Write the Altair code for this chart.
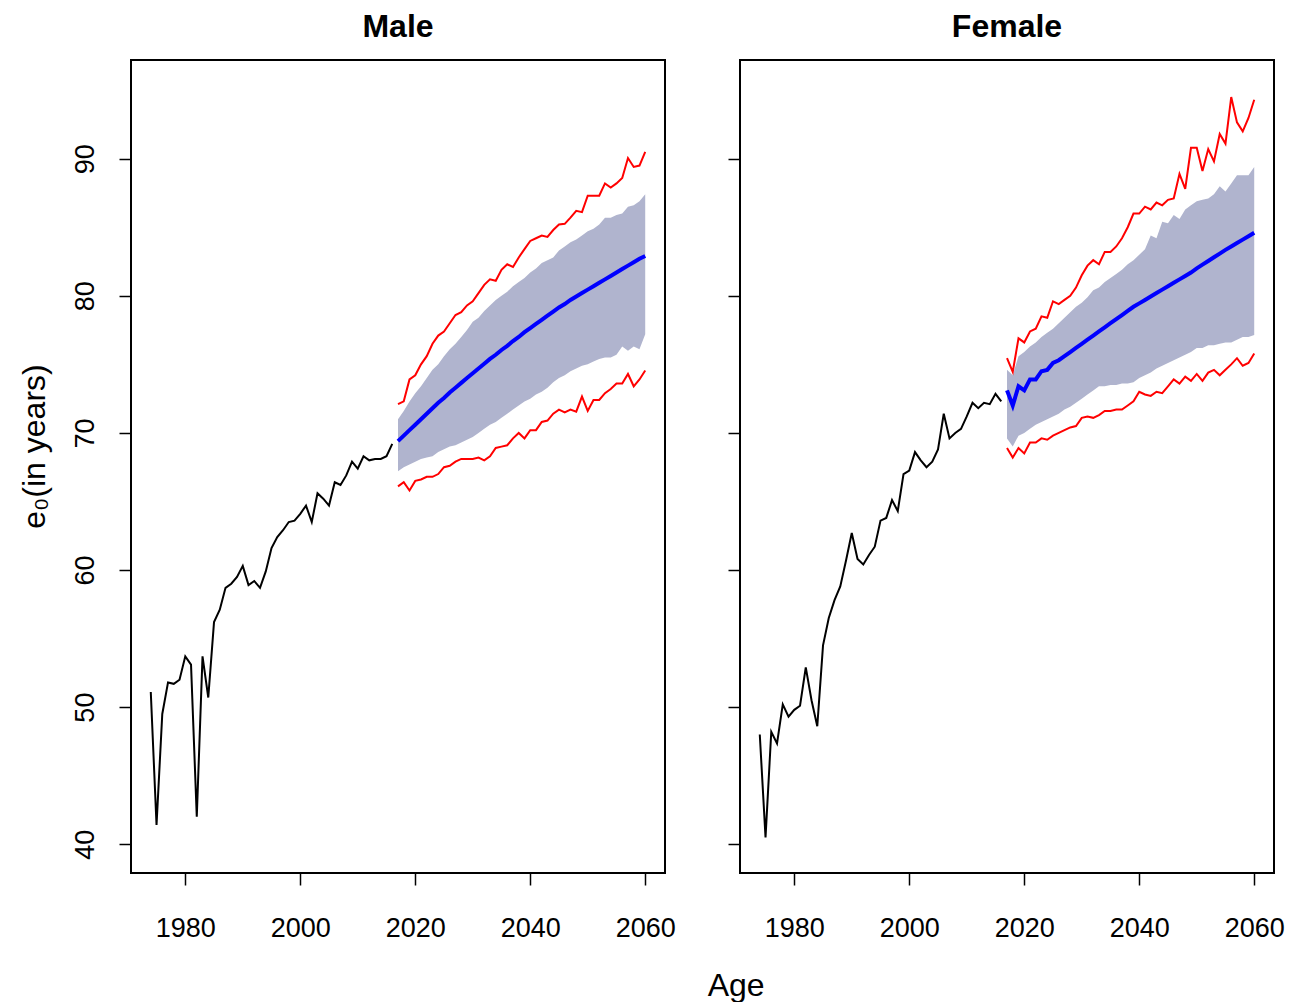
import altair as alt
import pandas as pd

hist_years = list(range(1974, 2017))
fc_years = list(range(2017, 2061))
x_ticks = [1980, 2000, 2020, 2040, 2060]
y_ticks = [40, 50, 60, 70, 80, 90]
panel_titles = ["Male", "Female"]

male_hist = [51.1, 41.4, 49.5, 51.8, 51.7, 52.0, 53.7, 53.1, 42.0, 53.7, 50.7,
             56.2, 57.1, 58.7, 59.0, 59.5, 60.3, 58.9, 59.2, 58.7, 59.9, 61.6,
             62.4, 62.9, 63.5, 63.6, 64.1, 64.7, 63.5, 65.6, 65.2, 64.7, 66.4,
             66.2, 66.9, 67.9, 67.4, 68.3, 68.0, 68.1, 68.1, 68.3, 69.2]
female_hist = [48.0, 40.5, 48.2, 47.35, 50.2, 49.3, 49.8, 50.1, 52.9, 50.5, 48.6,
               54.5, 56.5, 57.8, 58.8, 60.7, 62.7, 60.8, 60.4, 61.1, 61.7, 63.6,
               63.8, 65.1, 64.3, 67.0, 67.25, 68.6, 68.0, 67.5, 67.9, 68.8, 71.4,
               69.6, 70.0, 70.3, 71.2, 72.2, 71.8, 72.2, 72.1, 72.85, 72.3]

male_med = [69.4, 69.8, 70.2, 70.6, 71.0, 71.4, 71.8, 72.2, 72.55, 72.95, 73.3,
            73.65, 74.0, 74.35, 74.7, 75.05, 75.4, 75.7, 76.05, 76.35, 76.7, 77.0,
            77.35, 77.65, 77.95, 78.25, 78.55, 78.85, 79.15, 79.4, 79.7, 79.95, 80.2,
            80.45, 80.7, 80.95, 81.2, 81.45, 81.7, 81.95, 82.2, 82.45, 82.7, 82.9]
male_band_hi = [71.0, 71.6, 72.3, 72.9, 73.4, 74.0, 74.6, 75.0, 75.6, 76.1, 76.5,
                77.0, 77.5, 78.1, 78.4, 78.9, 79.3, 79.7, 80.0, 80.3, 80.7, 81.0,
                81.3, 81.7, 82.0, 82.4, 82.6, 82.8, 83.3, 83.6, 83.9, 84.1, 84.4,
                84.7, 84.9, 85.2, 85.7, 85.7, 85.9, 86.0, 86.5, 86.6, 86.9, 87.4]
male_band_lo = [67.2, 67.5, 67.7, 67.9, 68.1, 68.2, 68.3, 68.6, 68.8, 69.0, 69.1,
                69.3, 69.5, 69.7, 70.0, 70.3, 70.6, 70.8, 71.1, 71.4, 71.7, 72.0,
                72.3, 72.5, 72.8, 73.0, 73.3, 73.7, 74.0, 74.2, 74.5, 74.7, 74.9,
                75.0, 75.2, 75.4, 75.5, 75.5, 75.7, 76.3, 76.0, 76.3, 76.1, 77.2]
male_red_hi = [72.1, 72.3, 73.9, 74.2, 75.0, 75.6, 76.5, 77.1, 77.4, 78.0, 78.6,
               78.8, 79.3, 79.6, 80.2, 80.8, 81.2, 81.1, 81.9, 82.3, 82.1, 82.8,
               83.4, 84.0, 84.2, 84.4, 84.3, 84.8, 85.2, 85.25, 85.7, 86.2, 86.1,
               87.3, 87.3, 87.3, 88.2, 87.9, 88.2, 88.6, 90.05, 89.4, 89.5, 90.5]
male_red_lo = [66.1, 66.4, 65.8, 66.5, 66.6, 66.8, 66.8, 67.0, 67.5, 67.6, 67.9,
               68.1, 68.1, 68.1, 68.2, 68.0, 68.3, 68.9, 69.0, 69.1, 69.6, 70.0,
               69.6, 70.2, 70.2, 70.8, 70.9, 71.4, 71.7, 71.5, 71.7, 71.55, 72.65,
               71.6, 72.4, 72.4, 72.9, 73.2, 73.6, 73.6, 74.3, 73.4, 73.9, 74.55]

female_med = [73.1, 72.0, 73.4, 73.1, 73.9, 73.9, 74.5, 74.6, 75.1, 75.3, 75.6,
              75.9, 76.2, 76.5, 76.8, 77.1, 77.4, 77.7, 78.0, 78.3, 78.6, 78.9,
              79.2, 79.45, 79.7, 79.95, 80.2, 80.45, 80.7, 80.95, 81.2, 81.45, 81.7,
              82.0, 82.27, 82.54, 82.81, 83.08, 83.35, 83.6, 83.85, 84.1, 84.35, 84.6]
female_band_hi = [74.6, 74.2, 75.6, 75.9, 76.3, 76.6, 77.0, 77.3, 77.6, 78.0, 78.4,
                  78.8, 79.2, 79.5, 79.9, 80.4, 80.6, 81.0, 81.3, 81.6, 81.9, 82.3,
                  82.6, 83.0, 83.4, 84.4, 84.2, 85.4, 85.3, 85.9, 85.6, 86.3, 86.6,
                  86.9, 87.0, 87.1, 87.4, 88.0, 87.6, 88.2, 88.8, 88.8, 88.8, 89.4]
female_band_lo = [69.6, 69.0, 69.8, 70.0, 70.3, 70.6, 70.8, 71.0, 71.2, 71.4, 71.7,
                  71.9, 72.2, 72.5, 72.8, 73.1, 73.4, 73.4, 73.5, 73.5, 73.6, 73.6,
                  73.7, 74.0, 74.2, 74.4, 74.7, 74.9, 75.1, 75.3, 75.5, 75.7, 75.9,
                  76.2, 76.2, 76.4, 76.4, 76.5, 76.6, 76.6, 76.8, 77.0, 77.0, 77.15]
female_red_hi = [75.45, 74.45, 76.9, 76.6, 77.4, 77.6, 78.5, 78.4, 79.6, 79.4, 79.7,
                 80.0, 80.6, 81.5, 82.2, 82.6, 82.3, 83.2, 83.2, 83.6, 84.2, 85.0,
                 86.0, 86.0, 86.5, 86.3, 86.8, 86.6, 87.0, 87.1, 88.9, 87.8, 90.8,
                 90.8, 89.1, 90.7, 89.8, 91.8, 91.1, 94.5, 92.65, 92.0, 92.97, 94.3]
female_red_lo = [68.9, 68.2, 68.9, 68.5, 69.3, 69.3, 69.6, 69.5, 69.8, 70.0, 70.2,
                 70.4, 70.5, 71.1, 71.2, 71.1, 71.3, 71.6, 71.6, 71.7, 71.7, 72.0,
                 72.3, 73.0, 72.8, 72.7, 73.0, 72.9, 73.4, 73.9, 73.6, 74.1, 73.8,
                 74.3, 73.8, 74.4, 74.6, 74.2, 74.6, 75.0, 75.45, 74.9, 75.1, 75.8]

FONT = "Liberation Sans"
X_DOMAIN = [1970.56, 2063.44]
Y_DOMAIN = [37.9, 97.2]


def panel(title, hist, med, bhi, blo, rhi, rlo, first):
    hdf = pd.DataFrame({"year": hist_years, "v": hist})
    fdf = pd.DataFrame({"year": fc_years, "med": med, "bhi": bhi, "blo": blo,
                        "rhi": rhi, "rlo": rlo})
    xs = alt.Scale(domain=X_DOMAIN, nice=False, zero=False)
    ys = alt.Scale(domain=Y_DOMAIN, nice=False, zero=False)
    xaxis = alt.Axis(values=x_ticks, format="d", title=None, grid=False, domain=False,
                     tickSize=12, tickWidth=1.5, tickColor="black",
                     labelFontSize=27, labelFont=FONT, labelColor="black",
                     labelPadding=30, labelFlush=False)
    if first:
        yaxis = alt.Axis(values=y_ticks, title="e\u2080(in years)", grid=False, domain=False,
                         tickSize=12, tickWidth=1.5, tickColor="black",
                         labelFontSize=27, labelFont=FONT, labelColor="black",
                         labelAngle=270, labelAlign="center", labelBaseline="bottom",
                         labelPadding=20, labelFlush=False,
                         titleFont=FONT, titleFontSize=32, titleFontWeight="normal",
                         titleColor="black", titleAngle=270, titleBaseline="middle",
                         titleAlign="center", titleX=-97, titleY=386)
    else:
        yaxis = alt.Axis(values=y_ticks, title=None, labels=False, grid=False, domain=False,
                         tickSize=12, tickWidth=1.5, tickColor="black")

    base = alt.Chart(fdf)
    band = base.mark_area(color="#b0b4ce", opacity=1).encode(
        x=alt.X("year:Q", scale=xs, axis=xaxis),
        y=alt.Y("bhi:Q", scale=ys, axis=yaxis),
        y2="blo:Q",
    )
    red_hi = base.mark_line(color="#ff0000", strokeWidth=2).encode(
        x=alt.X("year:Q", scale=xs), y=alt.Y("rhi:Q", scale=ys))
    red_lo = base.mark_line(color="#ff0000", strokeWidth=2).encode(
        x=alt.X("year:Q", scale=xs), y=alt.Y("rlo:Q", scale=ys))
    median = base.mark_line(color="#0000ff", strokeWidth=4).encode(
        x=alt.X("year:Q", scale=xs), y=alt.Y("med:Q", scale=ys))
    history = alt.Chart(hdf).mark_line(color="black", strokeWidth=2).encode(
        x=alt.X("year:Q", scale=xs), y=alt.Y("v:Q", scale=ys))

    return alt.layer(band, red_hi, red_lo, median, history).properties(
        width=534, height=813,
        title=alt.TitleParams(title, font=FONT, fontSize=32, fontWeight="bold",
                              color="black", anchor="middle", offset=16),
    )


male = panel(panel_titles[0], male_hist, male_med, male_band_hi, male_band_lo,
             male_red_hi, male_red_lo, True)
female = panel(panel_titles[1], female_hist, female_med, female_band_hi, female_band_lo,
               female_red_hi, female_red_lo, False)

chart = alt.hconcat(male, female, spacing=75, bounds="flush").properties(
    title=alt.TitleParams("Age", orient="bottom", anchor="middle", font=FONT,
                          fontSize=32, fontWeight="normal", color="black", offset=29, dx=85),
    padding={"left": 17, "top": 10, "right": 5, "bottom": 0},
    background="white",
).configure_view(stroke="black", strokeWidth=2)

chart.save("out.html", embed_options={"renderer": "svg", "actions": False})
